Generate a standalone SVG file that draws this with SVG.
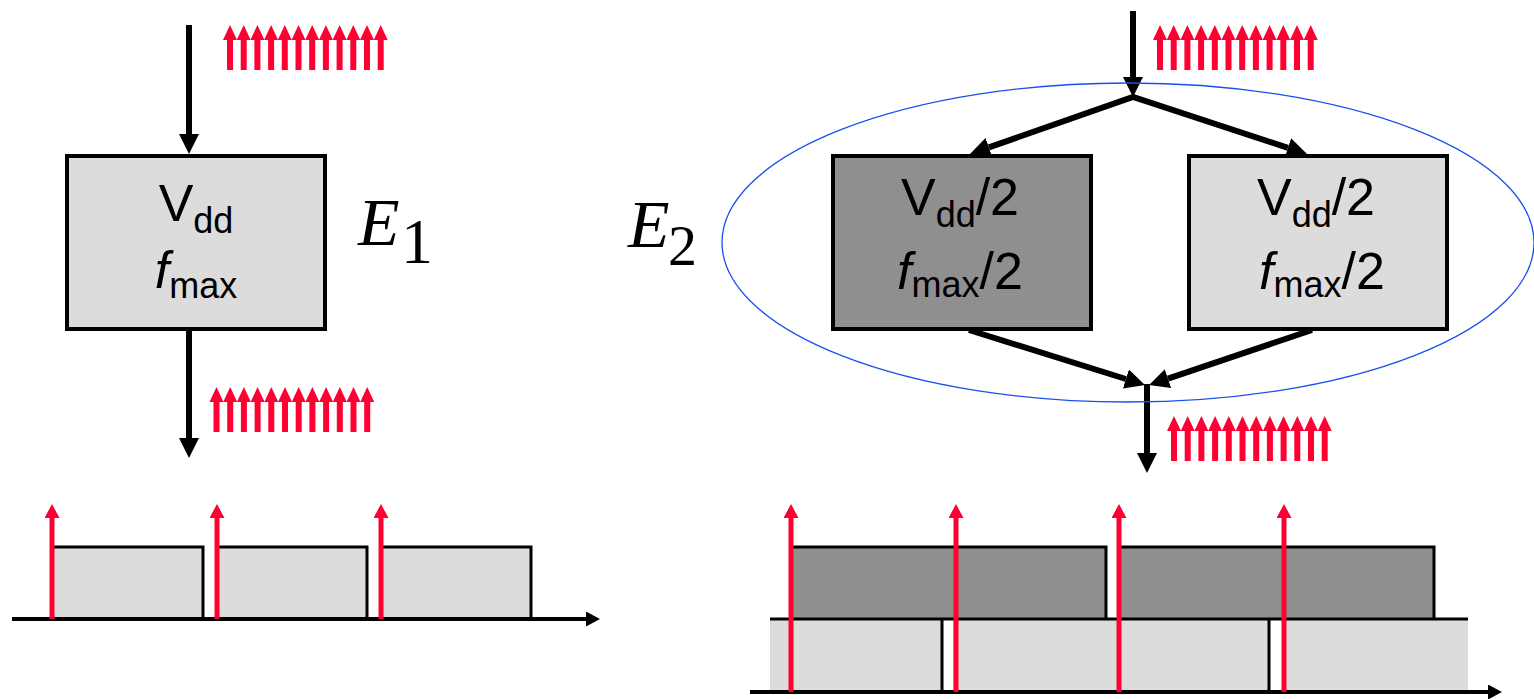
<svg xmlns="http://www.w3.org/2000/svg" xmlns:xlink="http://www.w3.org/1999/xlink" width="1534" height="699" viewBox="0 0 1534 699">
<style>
.box{stroke:#000;stroke-width:4}
.light{fill:#dcdcdc}
.dark{fill:#8f8f8f}
.conn{stroke:#000;stroke-width:6;fill:none;stroke-linejoin:miter}
.edge{stroke:#000;stroke-width:3;fill:none}
.axis{stroke:#000;stroke-width:4;fill:none}
.red{fill:#ff0033}
.tl{stroke:#ff0033;stroke-width:5;fill:none}
.lbl{font-family:"Liberation Sans",Arial,sans-serif;font-size:52px;fill:#000}
.sub{font-size:36px}
.it{font-style:italic}
.math{font-family:"Liberation Serif","Times New Roman",serif;fill:#000}
.ellipse{fill:none;stroke:#1a4ff0;stroke-width:1.3}
</style>
<defs>
<marker id="bh" markerUnits="userSpaceOnUse" viewBox="0 -10 20 20" refX="0" refY="0" markerWidth="20" markerHeight="20" orient="auto-start-reverse">
<path d="M0,-10 L20,0 L0,10 Z" fill="#000"/>
</marker>
<marker id="ah" markerUnits="userSpaceOnUse" viewBox="0 -7.5 14 15" refX="0" refY="0" markerWidth="14" markerHeight="15" orient="auto">
<path d="M0,-7.5 L14,0 L0,7.5 Z" fill="#000"/>
</marker>
<marker id="rh" markerUnits="userSpaceOnUse" viewBox="0 -7.5 14 15" refX="0" refY="0" markerWidth="14" markerHeight="15" orient="auto">
<path d="M0,-7.5 L14,0 L0,7.5 Z" fill="#ff0033"/>
</marker>
<g id="ra">
<rect x="-3" y="14" width="6" height="31" class="red"/>
<path d="M0,0 L7,15 L-7,15 Z" class="red"/>
</g>
<g id="burst">
<use xlink:href="#ra" x="0"/>
<use xlink:href="#ra" x="13.7"/>
<use xlink:href="#ra" x="27.4"/>
<use xlink:href="#ra" x="41.1"/>
<use xlink:href="#ra" x="54.8"/>
<use xlink:href="#ra" x="68.5"/>
<use xlink:href="#ra" x="82.2"/>
<use xlink:href="#ra" x="95.9"/>
<use xlink:href="#ra" x="109.6"/>
<use xlink:href="#ra" x="123.3"/>
<use xlink:href="#ra" x="137"/>
<use xlink:href="#ra" x="150.7"/>
</g>
</defs>

<g id="E1-node">
<rect x="67" y="156" width="258" height="173" class="box light"/>
<text x="196" y="221" text-anchor="middle" class="lbl">V<tspan class="sub" dy="12">dd</tspan></text>
<text x="196" y="288" text-anchor="middle" class="lbl"><tspan class="it">f</tspan><tspan class="sub" dy="10">max</tspan></text>
</g>
<g id="E1-label" class="math">
<text x="358" y="245" font-size="68" font-style="italic">E</text>
<text x="401" y="263" font-size="64">1</text>
</g>

<g id="dark-node">
<rect x="833" y="156" width="258" height="173" class="box dark"/>
<text x="960" y="215" text-anchor="middle" class="lbl">V<tspan class="sub" dy="12">dd</tspan><tspan dy="-12">/2</tspan></text>
<text x="960" y="289" text-anchor="middle" class="lbl"><tspan class="it">f</tspan><tspan class="sub" dy="8">max</tspan><tspan dy="-8">/2</tspan></text>
</g>
<g id="light-node">
<rect x="1189" y="156" width="258" height="173" class="box light"/>
<text x="1316" y="215" text-anchor="middle" class="lbl">V<tspan class="sub" dy="12">dd</tspan><tspan dy="-12">/2</tspan></text>
<text x="1322" y="289" text-anchor="middle" class="lbl"><tspan class="it">f</tspan><tspan class="sub" dy="8">max</tspan><tspan dy="-8">/2</tspan></text>
</g>
<g id="E2-label" class="math">
<text x="628" y="247" font-size="68" font-style="italic">E</text>
<text x="668" y="265" font-size="58">2</text>
</g>

<g id="connectors">
<line x1="189" y1="25" x2="189" y2="134" class="conn" marker-end="url(#bh)"/>
<line x1="189" y1="330" x2="189" y2="438" class="conn" marker-end="url(#bh)"/>
<line x1="1133" y1="11" x2="1133" y2="77" class="conn" marker-end="url(#bh)"/>
<path d="M988.9,147.4 L1133,97 L1288,147.8" class="conn" marker-start="url(#bh)" marker-end="url(#bh)"/>
<line x1="969" y1="330" x2="1125.9" y2="379" class="conn" marker-end="url(#bh)"/>
<line x1="1312" y1="330" x2="1168" y2="378.6" class="conn" marker-end="url(#bh)"/>
<line x1="1147" y1="384" x2="1147" y2="453" class="conn" marker-end="url(#bh)"/>
</g>

<ellipse id="E2-group" cx="1128" cy="242.5" rx="406" ry="159.5" class="ellipse"/>

<g id="bursts">
<use xlink:href="#burst" x="230" y="25"/>
<use xlink:href="#burst" x="216.5" y="387"/>
<use xlink:href="#burst" x="1160" y="25"/>
<use xlink:href="#burst" x="1174" y="416"/>
</g>

<g id="timeline-1">
<rect x="53" y="547" width="150" height="72" class="light"/>
<rect x="218" y="547" width="149" height="72" class="light"/>
<rect x="382" y="547" width="149" height="72" class="light"/>
<path d="M53,547 H203 V619 M218,547 H367 V619 M382,547 H531 V619" class="edge"/>
<line x1="12" y1="619" x2="586" y2="619" class="axis" marker-end="url(#ah)"/>
<line x1="52" y1="619" x2="52" y2="518" class="tl" marker-end="url(#rh)"/>
<line x1="217" y1="619" x2="217" y2="518" class="tl" marker-end="url(#rh)"/>
<line x1="381" y1="619" x2="381" y2="518" class="tl" marker-end="url(#rh)"/>
</g>

<g id="timeline-2">
<rect x="770" y="619" width="172" height="73" class="light"/>
<rect x="953" y="619" width="316" height="73" class="light"/>
<rect x="1282" y="619" width="186" height="73" class="light"/>
<rect x="793" y="547" width="313" height="72" class="dark"/>
<rect x="1120" y="547" width="314" height="72" class="dark"/>
<path d="M770,619 H1468 M942,619 V692 M1269,619 V692" class="edge"/>
<path d="M793,547 H1106 V619 M1120,547 H1434 V619" class="edge"/>
<line x1="750" y1="692" x2="1488" y2="692" class="axis" marker-end="url(#ah)"/>
<line x1="791" y1="692" x2="791" y2="518" class="tl" marker-end="url(#rh)"/>
<line x1="956" y1="692" x2="956" y2="518" class="tl" marker-end="url(#rh)"/>
<line x1="1119" y1="692" x2="1119" y2="518" class="tl" marker-end="url(#rh)"/>
<line x1="1284" y1="692" x2="1284" y2="518" class="tl" marker-end="url(#rh)"/>
</g>
</svg>
